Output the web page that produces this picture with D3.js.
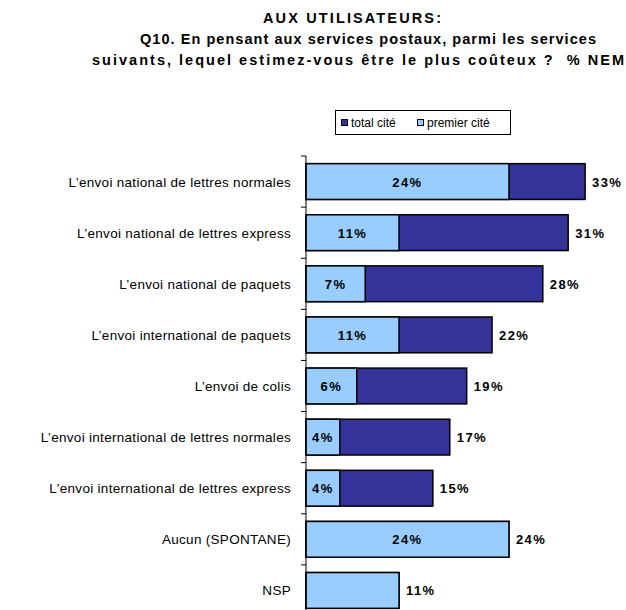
<!DOCTYPE html>
<html>
<head>
<meta charset="utf-8">
<script src="https://cdn.jsdelivr.net/npm/d3@7"></script>
<style>
  body { margin: 0; background: #fff; }
  svg { display: block; font-family: "Liberation Sans", Arial, sans-serif; }
</style>
</head>
<body>
<svg id="chart" width="626" height="610"></svg>
<script>
const categories = [
  "L\u2019envoi national de lettres normales",
  "L\u2019envoi national de lettres express",
  "L\u2019envoi national de paquets",
  "L\u2019envoi international de paquets",
  "L\u2019envoi de colis",
  "L\u2019envoi international de lettres normales",
  "L\u2019envoi international de lettres express",
  "Aucun (SPONTANE)",
  "NSP"
];
const totalCite = [33, 31, 28, 22, 19, 17, 15, 24, 11];
const premierCite = [24, 11, 7, 11, 6, 4, 4, 24, 11];
const showPremierLabel = [true, true, true, true, true, true, true, true, false];
const titleLines = [
  "AUX UTILISATEURS:",
  "Q10. En pensant aux services postaux, parmi les services",
  "suivants, lequel estimez-vous être le plus coûteux ?  % NEM"
];
const titleWidths = [178, 456, 532];
const seriesNames = ["total cité", "premier cité"];

const dark = "#333399";
const light = "#99CCFF";

const svg = d3.select("#chart");

const x = d3.scaleLinear().domain([0, 35]).range([306, 602]);
const y = d3.scaleBand().domain(categories).range([156, 616])
  .paddingInner(0.3).paddingOuter(0.15);

// title
svg.append("g").selectAll("text")
  .data(titleLines)
  .join("text")
  .attr("x", (d, i) => [352, 368, 358][i])
  .attr("y", (d, i) => 23 + i * 21)
  .attr("text-anchor", "middle")
  .attr("font-size", 14.5)
  .attr("font-weight", "bold")
  .attr("textLength", (d, i) => titleWidths[i])
  .attr("lengthAdjust", "spacing")
  .attr("xml:space", "preserve")
  .text(d => d);

// legend
const legend = svg.append("g");
legend.append("rect")
  .attr("x", 335.5).attr("y", 110.5).attr("width", 175).attr("height", 24)
  .attr("fill", "#fff").attr("stroke", "#000").attr("stroke-width", 1);
const legendItems = [
  { name: seriesNames[0], color: dark, x: 341 },
  { name: seriesNames[1], color: light, x: 417 }
];
legendItems.forEach(item => {
  legend.append("rect")
    .attr("x", item.x + 0.5).attr("y", 119.5).attr("width", 6).attr("height", 6)
    .attr("fill", item.color).attr("stroke", "#000").attr("stroke-width", 1);
  legend.append("text")
    .attr("x", item.x + 10).attr("y", 126.5)
    .attr("font-size", 12)
    .text(item.name);
});

const rows = categories.map((c, i) => ({
  cat: c, total: totalCite[i], premier: premierCite[i], showPremier: showPremierLabel[i]
}));

// total bars
svg.append("g").selectAll("rect")
  .data(rows)
  .join("rect")
  .attr("x", x(0))
  .attr("y", d => y(d.cat))
  .attr("width", d => x(d.total) - x(0))
  .attr("height", y.bandwidth())
  .attr("fill", dark)
  .attr("stroke", "#000")
  .attr("stroke-width", 1.5);

// premier bars
svg.append("g").selectAll("rect")
  .data(rows)
  .join("rect")
  .attr("x", x(0))
  .attr("y", d => y(d.cat))
  .attr("width", d => x(d.premier) - x(0))
  .attr("height", y.bandwidth())
  .attr("fill", light)
  .attr("stroke", "#000")
  .attr("stroke-width", 1.5);

// labels inside light bars
svg.append("g").selectAll("text")
  .data(rows.filter(d => d.showPremier))
  .join("text")
  .attr("x", d => (x(0) + x(d.premier)) / 2)
  .attr("y", d => y(d.cat) + y.bandwidth() / 2 + 5)
  .attr("text-anchor", "middle")
  .attr("font-size", 13)
  .attr("font-weight", "bold")
  .attr("letter-spacing", 1.4)
  .text(d => d.premier + "%");

// total labels
svg.append("g").selectAll("text")
  .data(rows)
  .join("text")
  .attr("x", d => x(d.total) + 7)
  .attr("y", d => y(d.cat) + y.bandwidth() / 2 + 5)
  .attr("font-size", 13)
  .attr("font-weight", "bold")
  .attr("letter-spacing", 1.4)
  .text(d => d.total + "%");

// category axis
const axis = svg.append("g");
axis.append("line")
  .attr("x1", x(0)).attr("x2", x(0))
  .attr("y1", 156).attr("y2", 616)
  .attr("stroke", "#000").attr("stroke-width", 1);
const boundaries = categories.map(c => y(c) - y.step() * y.paddingInner() / 2);
boundaries[0] = 156;
axis.selectAll("line.tick")
  .data(boundaries)
  .join("line")
  .attr("class", "tick")
  .attr("x1", x(0) - 5).attr("x2", x(0))
  .attr("y1", d => d).attr("y2", d => d)
  .attr("stroke", "#000").attr("stroke-width", 1);
axis.selectAll("text")
  .data(categories)
  .join("text")
  .attr("x", 291)
  .attr("y", d => y(d) + y.bandwidth() / 2 + 5)
  .attr("text-anchor", "end")
  .attr("font-size", 13.5)
  .attr("letter-spacing", 0.3)
  .text(d => d);
</script>
</body>
</html>
